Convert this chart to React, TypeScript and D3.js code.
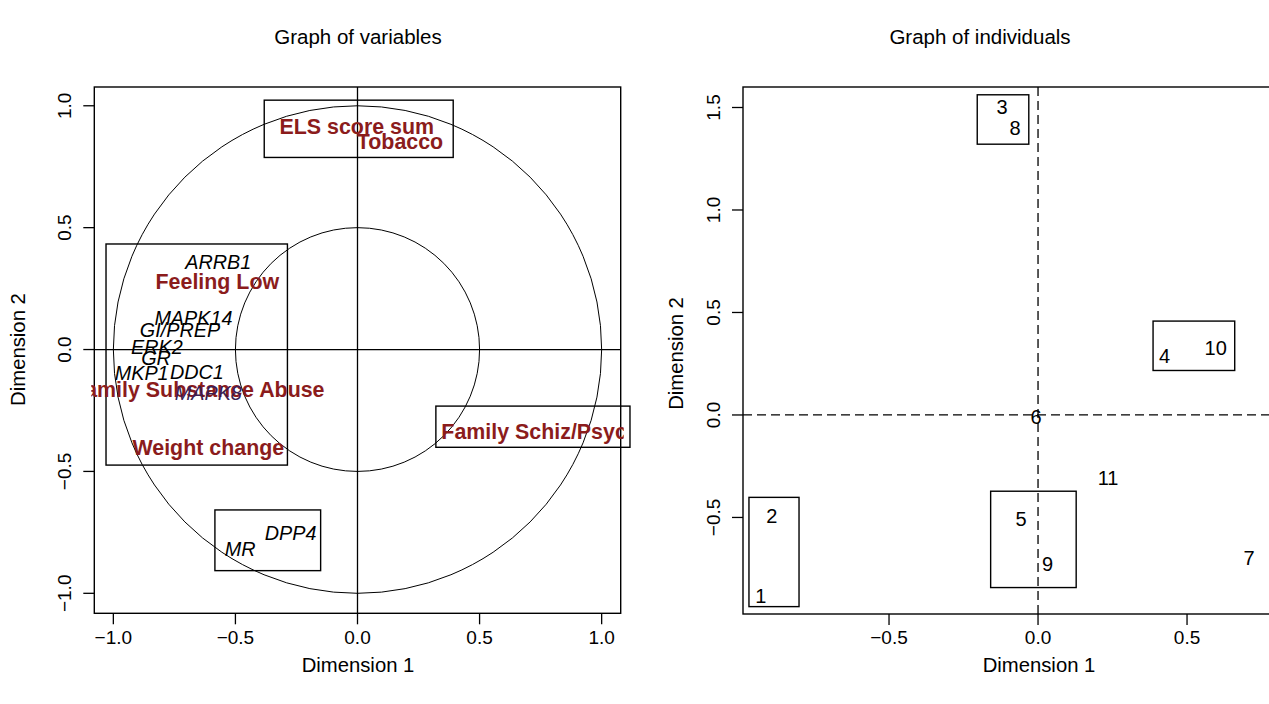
import React from "react";
import * as d3 from "d3";

// ---------- Data: Graph of variables ----------
const varNames = [
  "ARRB1", "Feeling Low", "MAPK14", "GI/PREP", "ERK2", "GR", "MKP1", "DDC1",
  "Family Substance Abuse", "MAPK8", "Weight change", "ELS score sum", "Tobacco",
  "DPP4", "MR", "Family Schiz/Psych",
];
const varX = [-0.57, -0.574, -0.672, -0.727, -0.822, -0.825, -0.884, -0.658, -0.652, -0.611, -0.611, -0.003, 0.174, -0.274, -0.481, 0.75];
const varY = [0.358, 0.278, 0.128, 0.08, 0.011, -0.036, -0.098, -0.091, -0.166, -0.18, -0.405, 0.911, 0.852, -0.754, -0.82, -0.337];
const varKind = ["gene", "clin", "gene", "gene", "gene", "gene", "gene", "gene", "clin", "gene2", "clin", "clin", "clin", "gene", "gene", "clin"];
// cluster boxes [x0, x1, y0, y1]
const varBoxes = [
  [-1.03, -0.287, -0.474, 0.433],
  [-0.382, 0.392, 0.788, 1.023],
  [-0.584, -0.151, -0.907, -0.658],
  [0.321, 1.116, -0.401, -0.232],
];
const varTicks = [-1.0, -0.5, 0.0, 0.5, 1.0];

// ---------- Data: Graph of individuals ----------
const indNames = ["1", "2", "3", "4", "5", "6", "7", "8", "9", "10", "11"];
const indX = [-0.93, -0.893, -0.121, 0.425, -0.057, -0.007, 0.708, -0.077, 0.032, 0.596, 0.235];
const indY = [-0.885, -0.493, 1.5, 0.29, -0.509, -0.011, -0.7, 1.4, -0.728, 0.329, -0.307];
const indBoxes = [
  [-0.97, -0.802, -0.935, -0.402],
  [-0.204, -0.031, 1.321, 1.562],
  [0.386, 0.66, 0.217, 0.458],
  [-0.159, 0.128, -0.842, -0.372],
];
const indXTicks = [-0.5, 0.0, 0.5];
const indYTicks = [-0.5, 0.0, 0.5, 1.0, 1.5];

const FONT = "'Liberation Sans', Arial, Helvetica, sans-serif";
const RED = "#8b1c1c";

export default function App() {
  // left panel scales
  const xL = d3.scaleLinear().domain([-1.078, 1.078]).range([94.3, 620.7]);
  const yL = d3.scaleLinear().domain([-1.082, 1.077]).range([613.3, 87]);
  // right panel scales
  const xR = d3.scaleLinear().domain([-0.99, 0.82]).range([743, 1282.4]);
  const yR = d3.scaleLinear().domain([-0.971, 1.6]).range([614, 87]);

  const fmt = d3.format(".1f");
  const rx = xL(1) - xL(0);
  const ry = yL(0) - yL(1);

  const lx0 = xL.range()[0], lx1 = xL.range()[1];
  const ly0 = yL.range()[1], ly1 = yL.range()[0];
  const rx0 = xR.range()[0], rx1 = xR.range()[1];
  const ry0 = yR.range()[1], ry1 = yR.range()[0];

  return (
    <svg
      width={1269}
      height={704}
      style={{ position: "absolute", left: 0, top: 0, background: "#fff" }}
      fontFamily={FONT}
    >
      <defs>
        <clipPath id="clipL">
          <rect x={lx0 - 3} y={ly0 - 3} width={lx1 - lx0 + 6} height={ly1 - ly0 + 6} />
        </clipPath>
      </defs>
      <rect x={0} y={0} width={1269} height={704} fill="#fff" />

      {/* ===== Left panel ===== */}
      <text x={358} y={44} textAnchor="middle" fontSize={20.5} fill="#000">
        Graph of variables
      </text>
      <rect x={lx0} y={ly0} width={lx1 - lx0} height={ly1 - ly0} fill="none" stroke="#000" strokeWidth={1.4} />
      {/* circles */}
      <ellipse cx={xL(0)} cy={yL(0)} rx={rx} ry={ry} fill="none" stroke="#000" strokeWidth={1} />
      <ellipse cx={xL(0)} cy={yL(0)} rx={rx * 0.5} ry={ry * 0.5} fill="none" stroke="#000" strokeWidth={1} />
      {/* axes lines */}
      <line x1={lx0} x2={lx1} y1={yL(0)} y2={yL(0)} stroke="#000" strokeWidth={1.3} />
      <line x1={xL(0)} x2={xL(0)} y1={ly0} y2={ly1} stroke="#000" strokeWidth={1.3} />
      {/* ticks */}
      {varTicks.map((t) => (
        <g key={"lx" + t}>
          <line x1={xL(t)} x2={xL(t)} y1={ly1} y2={ly1 + 11} stroke="#000" strokeWidth={1.3} />
          <text x={xL(t)} y={644} textAnchor="middle" fontSize={19}>
            {fmt(t)}
          </text>
        </g>
      ))}
      {varTicks.map((t) => (
        <g key={"ly" + t}>
          <line x1={lx0 - 11} x2={lx0} y1={yL(t)} y2={yL(t)} stroke="#000" strokeWidth={1.3} />
          <text
            transform={`translate(71,${yL(t)}) rotate(-90)`}
            textAnchor="middle"
            fontSize={19}
          >
            {fmt(t)}
          </text>
        </g>
      ))}
      <text x={358} y={672} textAnchor="middle" fontSize={20.3}>
        Dimension 1
      </text>
      <text transform={`translate(25,${yL(0)}) rotate(-90)`} textAnchor="middle" fontSize={20.3}>
        Dimension 2
      </text>
      {/* boxes */}
      {varBoxes.map((b, i) => (
        <rect
          key={"vb" + i}
          x={xL(b[0])}
          y={yL(b[3])}
          width={xL(b[1]) - xL(b[0])}
          height={yL(b[2]) - yL(b[3])}
          fill="none"
          stroke="#000"
          strokeWidth={1.4}
        />
      ))}
      {/* labels */}
      <g clipPath="url(#clipL)">
        {varNames.map((n, i) => {
          const k = varKind[i];
          const isClin = k === "clin";
          return (
            <text
              key={"vl" + i}
              x={xL(varX[i])}
              y={yL(varY[i])}
              textAnchor="middle"
              dominantBaseline="central"
              fontSize={isClin ? 21.4 : 19.8}
              fontWeight={isClin ? "bold" : "normal"}
              fontStyle={isClin ? "normal" : "italic"}
              fill={isClin ? RED : k === "gene2" ? "#3a1f55" : "#000"}
            >
              {n}
            </text>
          );
        })}
      </g>

      {/* ===== Right panel ===== */}
      <text x={980} y={44} textAnchor="middle" fontSize={20.5} fill="#000">
        Graph of individuals
      </text>
      <rect x={rx0} y={ry0} width={rx1 - rx0} height={ry1 - ry0} fill="none" stroke="#000" strokeWidth={1.4} />
      <line x1={rx0} x2={rx1} y1={yR(0)} y2={yR(0)} stroke="#000" strokeWidth={1.3} strokeDasharray="9,5" />
      <line x1={xR(0)} x2={xR(0)} y1={ry0} y2={ry1} stroke="#000" strokeWidth={1.3} strokeDasharray="9,5" />
      {indXTicks.map((t) => (
        <g key={"rx" + t}>
          <line x1={xR(t)} x2={xR(t)} y1={ry1} y2={ry1 + 11} stroke="#000" strokeWidth={1.3} />
          <text x={xR(t)} y={644} textAnchor="middle" fontSize={19}>
            {fmt(t)}
          </text>
        </g>
      ))}
      {indYTicks.map((t) => (
        <g key={"ry" + t}>
          <line x1={rx0 - 11} x2={rx0} y1={yR(t)} y2={yR(t)} stroke="#000" strokeWidth={1.3} />
          <text
            transform={`translate(720,${yR(t)}) rotate(-90)`}
            textAnchor="middle"
            fontSize={19}
          >
            {fmt(t)}
          </text>
        </g>
      ))}
      <text x={1039} y={672} textAnchor="middle" fontSize={20.3}>
        Dimension 1
      </text>
      <text transform={`translate(683,${yR(0.3)}) rotate(-90)`} textAnchor="middle" fontSize={20.3}>
        Dimension 2
      </text>
      {indBoxes.map((b, i) => (
        <rect
          key={"ib" + i}
          x={xR(b[0])}
          y={yR(b[3])}
          width={xR(b[1]) - xR(b[0])}
          height={yR(b[2]) - yR(b[3])}
          fill="none"
          stroke="#000"
          strokeWidth={1.4}
        />
      ))}
      {indNames.map((n, i) => (
        <text
          key={"il" + i}
          x={xR(indX[i])}
          y={yR(indY[i])}
          textAnchor="middle"
          dominantBaseline="central"
          fontSize={20}
          fill="#000"
        >
          {n}
        </text>
      ))}
    </svg>
  );
}
